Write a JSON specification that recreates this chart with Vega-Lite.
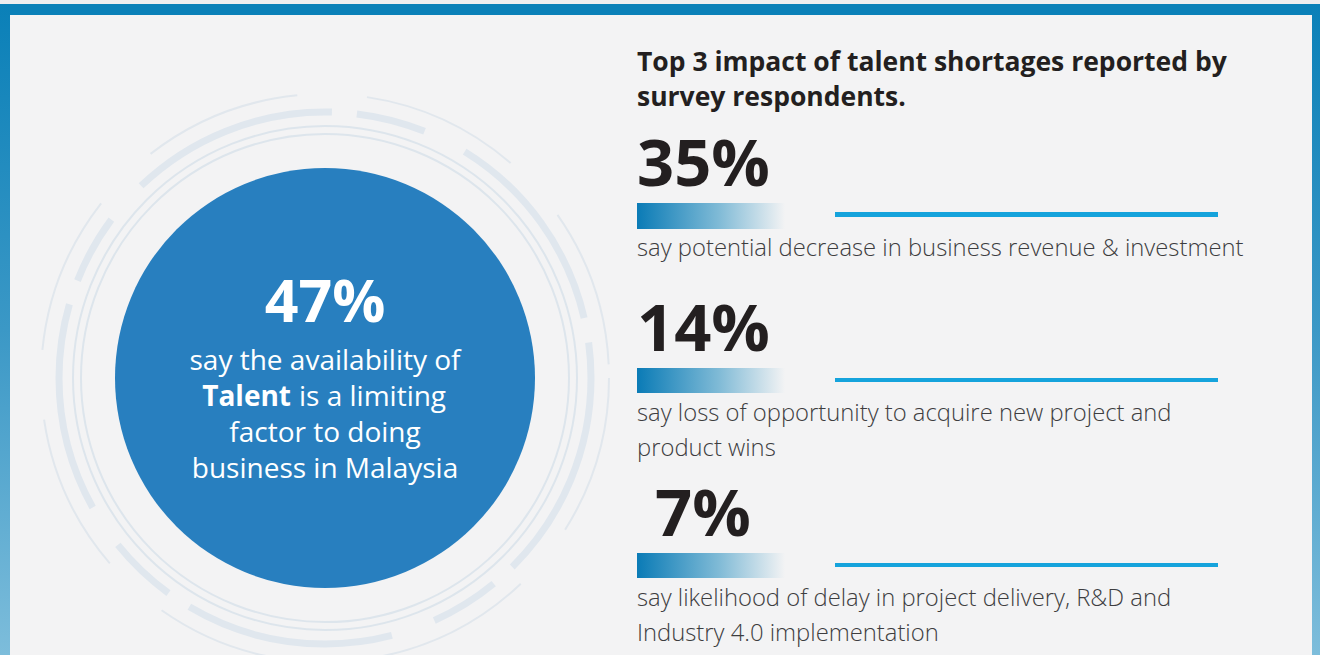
{
  "$schema": "https://vega.github.io/schema/vega-lite/v6.json",
  "width": 1320,
  "height": 655,
  "autosize": "none",
  "padding": 0,
  "background": "#f3f3f4",
  "config": {"view": {"stroke": null}, "font": "Open Sans"},
  "datasets": {
    "frame": [
      {"part": "topstrip", "x": 0, "x2": 1320, "y": 0, "y2": 4},
      {"part": "top", "x": 0, "x2": 1320, "y": 4, "y2": 15}
    ],
    "sides": [
      {"part": "left", "x": 0, "x2": 10, "y": 4, "y2": 655},
      {"part": "right", "x": 1312, "x2": 1320, "y": 4, "y2": 655}
    ],
    "thinRings": [
      {"x": 325, "y": 378, "r": 244},
      {"x": 325, "y": 378, "r": 252}
    ],
    "thickRings": [{"x": 325, "y": 378, "r": 266}],
    "outerRings": [{"x": 325, "y": 378, "r": 284}],
    "circle": [{"x": 325, "y": 378, "r": 210}],
    "circleBig": [{"x": 325, "y": 322, "text": "47%"}],
    "circleLines": [
      {"x": 325, "y": 370, "text": "say the availability of"},
      {"x": 325, "y": 442, "text": "factor to doing"},
      {"x": 325, "y": 478, "text": "business in Malaysia"}
    ],
    "circleLeft": [{"x": 299, "y": 406, "text": "is a limiting"}],
    "circleBold": [{"x": 291, "y": 406, "text": "Talent"}],
    "title": [
      {"x": 637, "y": 71, "text": "Top 3 impact of talent shortages reported by"},
      {"x": 637, "y": 106, "text": "survey respondents."}
    ],
    "pcts": [
      {"x": 637, "y": 186, "text": "35%"},
      {"x": 637, "y": 351, "text": "14%"},
      {"x": 655, "y": 536, "text": "7%"}
    ],
    "gradbars": [
      {"item": 1, "x": 637, "x2": 785, "y": 203, "y2": 229},
      {"item": 2, "x": 637, "x2": 785, "y": 368, "y2": 393},
      {"item": 3, "x": 637, "x2": 785, "y": 553, "y2": 578}
    ],
    "lines": [
      {"item": 1, "x": 835, "x2": 1218, "y": 212, "y2": 217},
      {"item": 2, "x": 835, "x2": 1218, "y": 378, "y2": 382},
      {"item": 3, "x": 835, "x2": 1218, "y": 563, "y2": 567}
    ],
    "desc": [
      {"x": 637, "y": 256, "text": "say potential decrease in business revenue & investment"},
      {"x": 637, "y": 421, "text": "say loss of opportunity to acquire new project and"},
      {"x": 637, "y": 456, "text": "product wins"},
      {"x": 637, "y": 606, "text": "say likelihood of delay in project delivery, R&D and"},
      {"x": 637, "y": 641, "text": "Industry 4.0 implementation"}
    ]
  },
  "resolve": {"scale": {"size": "shared"}},
  "layer": [
    {
      "data": {"name": "frame"},
      "mark": {"type": "rect"},
      "encoding": {
        "x": {"field": "x", "type": "quantitative", "scale": {"domain": [0, 1320], "nice": false, "zero": false}, "axis": null},
        "x2": {"field": "x2"},
        "y": {"field": "y", "type": "quantitative", "scale": {"domain": [655, 0], "nice": false, "zero": false}, "axis": null},
        "y2": {"field": "y2"},
        "color": {"field": "part", "type": "nominal", "scale": {"domain": ["topstrip", "top"], "range": ["#ededef", "#0a80b8"]}, "legend": null}
      }
    },
    {
      "data": {"name": "sides"},
      "mark": {"type": "rect", "fill": {"gradient": "linear", "x1": 0, "y1": 0, "x2": 0, "y2": 1, "stops": [{"offset": 0, "color": "#0a80b8"}, {"offset": 0.5, "color": "#3b98c6"}, {"offset": 1, "color": "#7dbddb"}]}},
      "encoding": {
        "x": {"field": "x", "type": "quantitative"},
        "x2": {"field": "x2"},
        "y": {"field": "y", "type": "quantitative"},
        "y2": {"field": "y2"}
      }
    },
    {
      "data": {"name": "outerRings"},
      "mark": {"type": "point", "shape": "circle", "filled": false, "stroke": "#e1e7ed", "strokeWidth": 2, "strokeDash": [160, 70], "opacity": 1},
      "encoding": {
        "x": {"field": "x", "type": "quantitative"},
        "y": {"field": "y", "type": "quantitative"},
        "size": {"field": "r", "type": "quantitative", "scale": {"type": "pow", "exponent": 2, "domain": [0, 300], "range": [0, 360000]}, "legend": null}
      }
    },
    {
      "data": {"name": "thickRings"},
      "mark": {"type": "point", "shape": "circle", "filled": false, "stroke": "#e0e7ee", "strokeWidth": 7, "strokeDash": [210, 25, 70, 45], "opacity": 1},
      "encoding": {
        "x": {"field": "x", "type": "quantitative"},
        "y": {"field": "y", "type": "quantitative"},
        "size": {"field": "r", "type": "quantitative", "legend": null}
      }
    },
    {
      "data": {"name": "thinRings"},
      "mark": {"type": "point", "shape": "circle", "filled": false, "stroke": "#dde5ec", "strokeWidth": 2, "opacity": 1},
      "encoding": {
        "x": {"field": "x", "type": "quantitative"},
        "y": {"field": "y", "type": "quantitative"},
        "size": {"field": "r", "type": "quantitative", "legend": null}
      }
    },
    {
      "data": {"name": "circle"},
      "mark": {"type": "point", "shape": "circle", "filled": true, "fill": "#287fbf", "opacity": 1, "strokeWidth": 0},
      "encoding": {
        "x": {"field": "x", "type": "quantitative"},
        "y": {"field": "y", "type": "quantitative"},
        "size": {"field": "r", "type": "quantitative", "legend": null}
      }
    },
    {
      "data": {"name": "circleBig"},
      "mark": {"type": "text", "font": "Open Sans", "fontWeight": "bold", "fontSize": 59, "color": "#ffffff", "align": "center", "baseline": "alphabetic"},
      "encoding": {
        "x": {"field": "x", "type": "quantitative"},
        "y": {"field": "y", "type": "quantitative"},
        "text": {"field": "text"}
      }
    },
    {
      "data": {"name": "circleLines"},
      "mark": {"type": "text", "font": "Open Sans", "fontSize": 28, "color": "#ffffff", "align": "center", "baseline": "alphabetic"},
      "encoding": {
        "x": {"field": "x", "type": "quantitative"},
        "y": {"field": "y", "type": "quantitative"},
        "text": {"field": "text"}
      }
    },
    {
      "data": {"name": "circleLeft"},
      "mark": {"type": "text", "font": "Open Sans", "fontSize": 28, "color": "#ffffff", "align": "left", "baseline": "alphabetic"},
      "encoding": {
        "x": {"field": "x", "type": "quantitative"},
        "y": {"field": "y", "type": "quantitative"},
        "text": {"field": "text"}
      }
    },
    {
      "data": {"name": "circleBold"},
      "mark": {"type": "text", "font": "Open Sans", "fontWeight": "bold", "fontSize": 28, "color": "#ffffff", "align": "right", "baseline": "alphabetic"},
      "encoding": {
        "x": {"field": "x", "type": "quantitative"},
        "y": {"field": "y", "type": "quantitative"},
        "text": {"field": "text"}
      }
    },
    {
      "data": {"name": "title"},
      "mark": {"type": "text", "font": "Open Sans", "fontWeight": "bold", "fontSize": 26.5, "color": "#231f20", "align": "left", "baseline": "alphabetic"},
      "encoding": {
        "x": {"field": "x", "type": "quantitative"},
        "y": {"field": "y", "type": "quantitative"},
        "text": {"field": "text"}
      }
    },
    {
      "data": {"name": "pcts"},
      "mark": {"type": "text", "font": "Open Sans", "fontWeight": "bold", "fontSize": 65, "color": "#231f20", "align": "left", "baseline": "alphabetic"},
      "encoding": {
        "x": {"field": "x", "type": "quantitative"},
        "y": {"field": "y", "type": "quantitative"},
        "text": {"field": "text"}
      }
    },
    {
      "data": {"name": "gradbars"},
      "mark": {"type": "rect", "fill": {"gradient": "linear", "x1": 0, "y1": 0, "x2": 1, "y2": 0, "stops": [{"offset": 0, "color": "#0a7bb6"}, {"offset": 0.55, "color": "#7fbad6"}, {"offset": 1, "color": "#f3f3f4"}]}},
      "encoding": {
        "x": {"field": "x", "type": "quantitative"},
        "x2": {"field": "x2"},
        "y": {"field": "y", "type": "quantitative"},
        "y2": {"field": "y2"}
      }
    },
    {
      "data": {"name": "lines"},
      "mark": {"type": "rect", "fill": "#15a3dc"},
      "encoding": {
        "x": {"field": "x", "type": "quantitative"},
        "x2": {"field": "x2"},
        "y": {"field": "y", "type": "quantitative"},
        "y2": {"field": "y2"}
      }
    },
    {
      "data": {"name": "desc"},
      "mark": {"type": "text", "font": "Open Sans", "fontWeight": 300, "fontSize": 23.8, "color": "#3d3d3f", "align": "left", "baseline": "alphabetic"},
      "encoding": {
        "x": {"field": "x", "type": "quantitative"},
        "y": {"field": "y", "type": "quantitative"},
        "text": {"field": "text"}
      }
    }
  ]
}
